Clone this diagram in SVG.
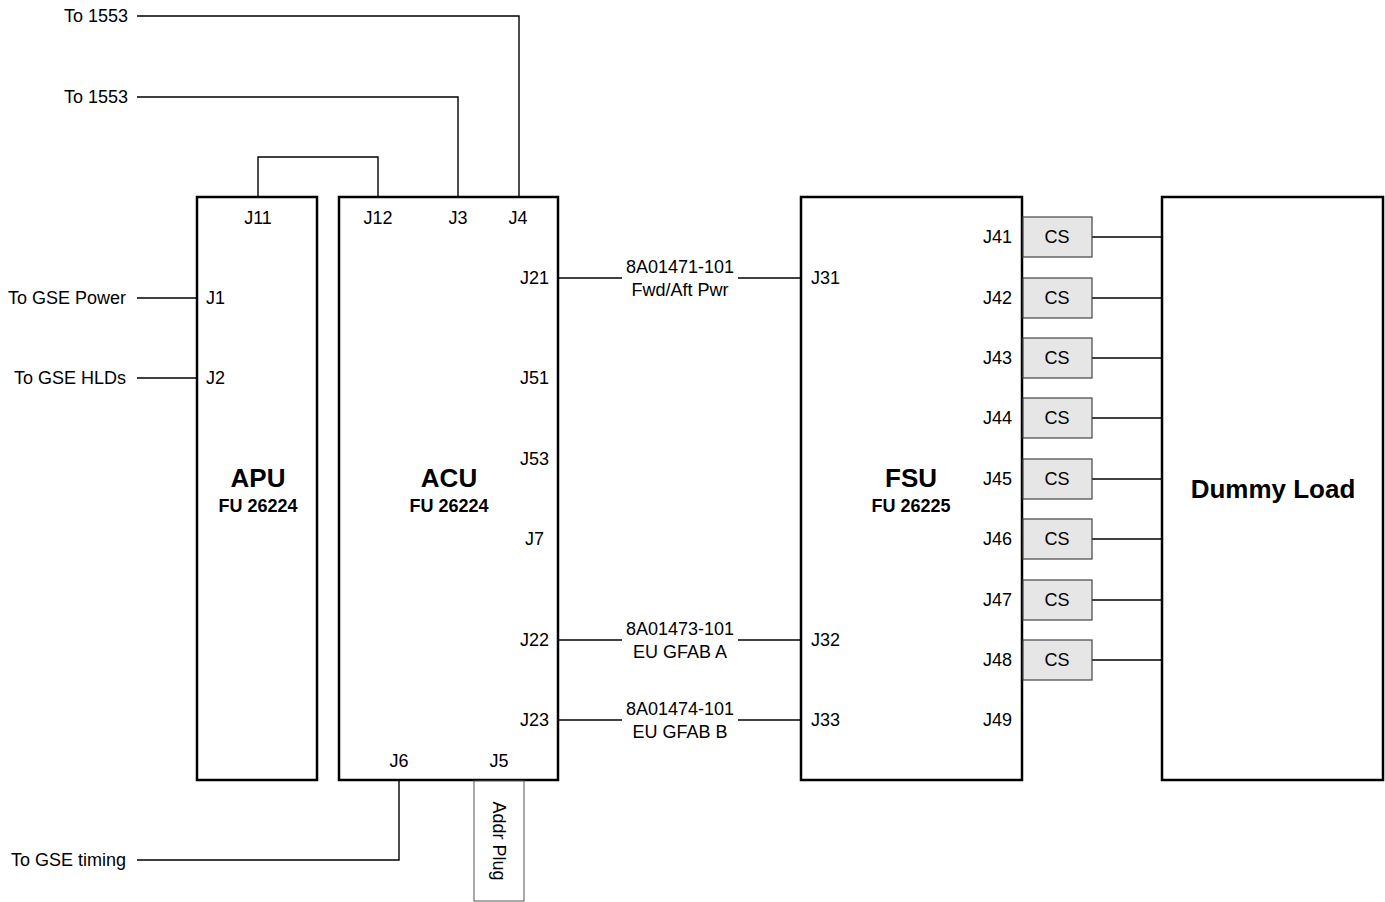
<svg xmlns="http://www.w3.org/2000/svg" width="1385" height="902" viewBox="0 0 1385 902">
<style>
text{font-family:"Liberation Sans",Arial,sans-serif;font-size:18px;fill:#000}
.c{text-anchor:middle}
.e{text-anchor:end}
.t{font-weight:bold;font-size:26px;text-anchor:middle}
.s{font-weight:bold;font-size:18px;text-anchor:middle}
.box{fill:#fff;stroke:#000;stroke-width:2.5}
.cs{fill:#e6e6e6;stroke:#444;stroke-width:1.2}
.w{fill:none;stroke:#000;stroke-width:1.4}
</style>
<rect width="1385" height="902" fill="#fff"/>
<g id="connectors" class="w">
<polyline points="137,16 519,16 519,197"/>
<polyline points="137,97 458,97 458,197"/>
<polyline points="258,197 258,157 378,157 378,197"/>
<line x1="137" y1="298" x2="197" y2="298"/>
<line x1="137" y1="378" x2="197" y2="378"/>
<polyline points="399,780 399,860 137,860"/>
<line x1="558" y1="278" x2="622" y2="278"/><line x1="738" y1="278" x2="801" y2="278"/>
<line x1="558" y1="640" x2="622" y2="640"/><line x1="738" y1="640" x2="801" y2="640"/>
<line x1="558" y1="720" x2="622" y2="720"/><line x1="738" y1="720" x2="801" y2="720"/>
<line x1="1092" y1="237" x2="1162" y2="237"/>
<line x1="1092" y1="298" x2="1162" y2="298"/>
<line x1="1092" y1="358" x2="1162" y2="358"/>
<line x1="1092" y1="418" x2="1162" y2="418"/>
<line x1="1092" y1="479" x2="1162" y2="479"/>
<line x1="1092" y1="539" x2="1162" y2="539"/>
<line x1="1092" y1="600" x2="1162" y2="600"/>
<line x1="1092" y1="660" x2="1162" y2="660"/>
</g>
<g id="labels">
<text class="e" x="128" y="22">To 1553</text>
<text class="e" x="128" y="103">To 1553</text>
<text class="e" x="126" y="304">To GSE Power</text>
<text class="e" x="126" y="384">To GSE HLDs</text>
<text class="e" x="126" y="866">To GSE timing</text>
<text class="c" x="680" y="273">8A01471-101</text>
<text class="c" x="680" y="296">Fwd/Aft Pwr</text>
<text class="c" x="680" y="635">8A01473-101</text>
<text class="c" x="680" y="658">EU GFAB A</text>
<text class="c" x="680" y="715">8A01474-101</text>
<text class="c" x="680" y="738">EU GFAB B</text>
</g>
<g id="apu">
<rect class="box" x="197" y="197" width="120" height="583"/>
<text class="c" x="258" y="224">J11</text>
<text x="206" y="304">J1</text>
<text x="206" y="384">J2</text>
<text class="t" x="258" y="487">APU</text>
<text class="s" x="258" y="512">FU 26224</text>
</g>
<g id="acu">
<rect class="box" x="339" y="197" width="219" height="583"/>
<text class="c" x="378" y="224">J12</text>
<text class="c" x="458" y="224">J3</text>
<text class="c" x="518" y="224">J4</text>
<text class="e" x="549" y="284">J21</text>
<text class="e" x="549" y="384">J51</text>
<text class="e" x="549" y="465">J53</text>
<text class="e" x="544" y="545">J7</text>
<text class="e" x="549" y="646">J22</text>
<text class="e" x="549" y="726">J23</text>
<text class="c" x="399" y="767">J6</text>
<text class="c" x="499" y="767">J5</text>
<text class="t" x="449" y="487">ACU</text>
<text class="s" x="449" y="512">FU 26224</text>
</g>
<g id="addr-plug">
<rect x="474" y="781" width="50" height="120" fill="#fff" stroke="#555" stroke-width="1"/>
<text class="c" transform="translate(493,841) rotate(90)">Addr Plug</text>
</g>
<g id="fsu">
<rect class="box" x="801" y="197" width="221" height="583"/>
<text x="811" y="284">J31</text>
<text x="811" y="646">J32</text>
<text x="811" y="726">J33</text>
<text class="e" x="1012" y="243">J41</text>
<text class="e" x="1012" y="304">J42</text>
<text class="e" x="1012" y="364">J43</text>
<text class="e" x="1012" y="424">J44</text>
<text class="e" x="1012" y="485">J45</text>
<text class="e" x="1012" y="545">J46</text>
<text class="e" x="1012" y="606">J47</text>
<text class="e" x="1012" y="666">J48</text>
<text class="e" x="1012" y="726">J49</text>
<text class="t" x="911" y="487">FSU</text>
<text class="s" x="911" y="512">FU 26225</text>
</g>
<g id="cs-boxes">
<rect class="cs" x="1023" y="217" width="69" height="40"/><text class="c" x="1057" y="243">CS</text>
<rect class="cs" x="1023" y="278" width="69" height="40"/><text class="c" x="1057" y="304">CS</text>
<rect class="cs" x="1023" y="338" width="69" height="40"/><text class="c" x="1057" y="364">CS</text>
<rect class="cs" x="1023" y="398" width="69" height="40"/><text class="c" x="1057" y="424">CS</text>
<rect class="cs" x="1023" y="459" width="69" height="40"/><text class="c" x="1057" y="485">CS</text>
<rect class="cs" x="1023" y="519" width="69" height="40"/><text class="c" x="1057" y="545">CS</text>
<rect class="cs" x="1023" y="580" width="69" height="40"/><text class="c" x="1057" y="606">CS</text>
<rect class="cs" x="1023" y="640" width="69" height="40"/><text class="c" x="1057" y="666">CS</text>
</g>
<g id="dummy-load">
<rect class="box" x="1162" y="197" width="221" height="583"/>
<text class="t" x="1273" y="498">Dummy Load</text>
</g>
</svg>
